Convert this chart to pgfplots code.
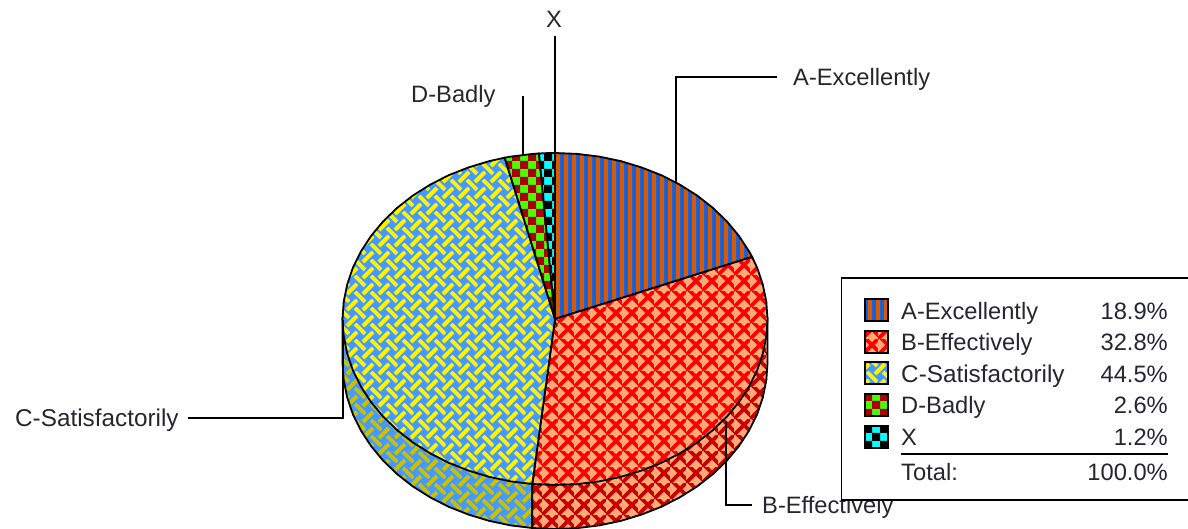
\documentclass[border=0pt]{standalone}
\usepackage{fontspec}
\setmainfont{Liberation Sans}
\usepackage{pgfplots}
\pgfplotsset{compat=1.18}
\usetikzlibrary{patterns}
\definecolor{txt}{HTML}{26262E}
\definecolor{ablue}{HTML}{0F62E8}
\definecolor{aorange}{HTML}{D95B00}
\definecolor{bbg}{HTML}{FFAA77}
\definecolor{cbg}{HTML}{4499FF}
\definecolor{dgreen}{HTML}{44FF00}
\definecolor{dred}{HTML}{AA0000}
\definecolor{xcyan}{HTML}{00FFFF}
\definecolor{bdark}{HTML}{C80000}
\definecolor{cdark}{HTML}{C8C000}
\newcommand\bbll{\pgfqpoint{-2pt}{-2pt}}
\newcommand\bigbg[1]{\pgfsetfillcolor{#1}\pgfpathrectangle{\pgfqpoint{-4pt}{-4pt}}{\pgfqpoint{26pt}{26pt}}\pgfusepath{fill}}
% vertical stripes
\pgfdeclarepatterninherentlycolored{pa}{\bbll}{\pgfqpoint{10pt}{10pt}}{\pgfqpoint{8pt}{8pt}}{%
  \pgfsetfillcolor{ablue}\pgfpathrectangle{\pgfqpoint{-4pt}{-4pt}}{\pgfqpoint{18pt}{18pt}}\pgfusepath{fill}%
  \pgfsetfillcolor{aorange}%
  \pgfpathrectangle{\pgfqpoint{-4pt}{-4pt}}{\pgfqpoint{4pt}{18pt}}%
  \pgfpathrectangle{\pgfqpoint{4pt}{-4pt}}{\pgfqpoint{4pt}{18pt}}\pgfusepath{fill}}
% crosshatch
\newcommand\crosshatch[1]{%
  \bigbg{bbg}%
  \pgfsetstrokecolor{#1}\pgfsetlinewidth{3.7pt}%
  \pgfpathmoveto{\pgfqpoint{-4pt}{-4pt}}\pgfpathlineto{\pgfqpoint{20pt}{20pt}}%
  \pgfpathmoveto{\pgfqpoint{-4pt}{20pt}}\pgfpathlineto{\pgfqpoint{20pt}{-4pt}}%
  \pgfusepath{stroke}}
\pgfdeclarepatterninherentlycolored{pb}{\bbll}{\pgfqpoint{18pt}{18pt}}{\pgfqpoint{16pt}{16pt}}{\crosshatch{red}}
\pgfdeclarepatterninherentlycolored{pbd}{\bbll}{\pgfqpoint{18pt}{18pt}}{\pgfqpoint{16pt}{16pt}}{\crosshatch{bdark}}
% weave
\newcommand\weave[1]{%
  \bigbg{cbg}%
  \pgfsetstrokecolor{#1}\pgfsetlinewidth{3.9pt}%
  \pgfpathmoveto{\pgfqpoint{-5pt}{-5pt}}\pgfpathlineto{\pgfqpoint{5pt}{5pt}}%
  \pgfpathmoveto{\pgfqpoint{11pt}{11pt}}\pgfpathlineto{\pgfqpoint{21pt}{21pt}}%
  \pgfpathmoveto{\pgfqpoint{11pt}{-5pt}}\pgfpathlineto{\pgfqpoint{21pt}{5pt}}%
  \pgfpathmoveto{\pgfqpoint{-5pt}{11pt}}\pgfpathlineto{\pgfqpoint{5pt}{21pt}}%
  \pgfpathmoveto{\pgfqpoint{3pt}{13pt}}\pgfpathlineto{\pgfqpoint{13pt}{3pt}}%
  \pgfusepath{stroke}}
\pgfdeclarepatterninherentlycolored{pc}{\bbll}{\pgfqpoint{18pt}{18pt}}{\pgfqpoint{16pt}{16pt}}{\weave{yellow}}
\pgfdeclarepatterninherentlycolored{pcd}{\bbll}{\pgfqpoint{18pt}{18pt}}{\pgfqpoint{16pt}{16pt}}{\weave{cdark}}
% checkers
\newcommand\checker[2]{%
  \bigbg{#1}%
  \pgfsetfillcolor{#2}\pgfpathrectangle{\pgfpointorigin}{\pgfqpoint{8pt}{8pt}}%
  \pgfpathrectangle{\pgfqpoint{8pt}{8pt}}{\pgfqpoint{8pt}{8pt}}%
  \pgfpathrectangle{\pgfqpoint{16pt}{0pt}}{\pgfqpoint{8pt}{8pt}}%
  \pgfpathrectangle{\pgfqpoint{0pt}{16pt}}{\pgfqpoint{8pt}{8pt}}%
  \pgfpathrectangle{\pgfqpoint{-8pt}{8pt}}{\pgfqpoint{8pt}{8pt}}%
  \pgfpathrectangle{\pgfqpoint{8pt}{-8pt}}{\pgfqpoint{8pt}{8pt}}%
  \pgfpathrectangle{\pgfqpoint{16pt}{16pt}}{\pgfqpoint{8pt}{8pt}}%
  \pgfpathrectangle{\pgfqpoint{-8pt}{-8pt}}{\pgfqpoint{8pt}{8pt}}%
  \pgfusepath{fill}}
\pgfdeclarepatterninherentlycolored{pd}{\bbll}{\pgfqpoint{18pt}{18pt}}{\pgfqpoint{16pt}{16pt}}{\checker{dgreen}{dred}}
\pgfdeclarepatterninherentlycolored{px}{\bbll}{\pgfqpoint{18pt}{18pt}}{\pgfqpoint{16pt}{16pt}}{\checker{xcyan}{black}}
\pgfplotsset{chartaxis/.style={
  at={(0,0)},anchor=south west,
  width=1188pt,height=529pt,scale only axis,hide axis,
  xmin=0,xmax=1188,ymin=0,ymax=529,y dir=reverse}}
\tikzset{lab/.style={anchor=base west,inner sep=0pt,text=txt,font=\fontsize{23.7}{26}\selectfont},
 labc/.style={anchor=base west,inner sep=0pt,text=txt,font=\fontsize{24.3}{26}\selectfont},
 labr/.style={anchor=base east,inner sep=0pt,text=txt,font=\fontsize{23.7}{26}\selectfont}}
\begin{document}
\begin{tikzpicture}
\begin{axis}[chartaxis]
% pie side, clipped at the lower edge
\addplot[draw=black,line width=1.8pt,pattern=pcd] coordinates {(342.5,319)(342.5,363)(343.7,380.3)(347.2,397.5)(352.9,414.3)(360.9,430.5)(371,446)(383.1,460.6)(397.1,474.1)(412.8,486.4)(430.1,497.3)(448.7,506.8)(468.6,514.6)(489.3,520.9)(510.8,525.4)(532.3,528)(532.3,484)} --cycle;
\addplot[draw=black,line width=1.8pt,pattern=pbd] coordinates {(767.5,319)(767.5,363)(766.3,380.3)(762.8,397.5)(757.1,414.3)(749.1,430.5)(739,446)(726.9,460.6)(712.9,474.1)(697.2,486.4)(679.9,497.3)(661.3,506.8)(641.4,514.6)(620.7,520.9)(599.2,525.4)(577.2,528.1)(555,529)(532.3,528)(532.3,484)} --cycle;
% pie top: A 18.9, B 32.8, C 44.5, D 2.6, X 1.2 per cent
\addplot[draw=black,line width=1.8pt,pattern=pa] coordinates {(555,319)(555,153)(577.2,153.9)(599.2,156.6)(620.7,161.1)(641.4,167.4)(661.3,175.2)(679.9,184.7)(697.2,195.6)(712.9,207.9)(726.9,221.4)(739,236)(749.1,251.5)(752.1,256.9)} --cycle;
\addplot[draw=black,line width=1.8pt,pattern=pb] coordinates {(555,319)(752.1,256.9)(757.1,267.7)(762.8,284.5)(766.3,301.7)(767.5,319)(766.3,336.3)(762.8,353.5)(757.1,370.3)(749.1,386.5)(739,402)(726.9,416.6)(712.9,430.1)(697.2,442.4)(679.9,453.3)(661.3,462.8)(641.4,470.6)(620.7,476.9)(599.2,481.4)(577.2,484.1)(555,485)(532.3,484)} --cycle;
\addplot[draw=black,line width=1.8pt,pattern=pc] coordinates {(555,319)(532.3,484)(510.8,481.4)(489.3,476.9)(468.6,470.6)(448.7,462.8)(430.1,453.3)(412.8,442.4)(397.1,430.1)(383.1,416.6)(371,402)(360.9,386.5)(352.9,370.3)(347.2,353.5)(343.7,336.3)(342.5,319)(343.7,301.7)(347.2,284.5)(352.9,267.7)(360.9,251.5)(371,236)(383.1,221.4)(397.1,207.9)(412.8,195.6)(430.1,184.7)(448.7,175.2)(468.6,167.4)(489.3,161.1)(504.7,157.7)} --cycle;
\addplot[draw=black,line width=1.8pt,pattern=pd] coordinates {(555,319)(504.7,157.7)(510.8,156.6)(532.8,153.9)(539,153.5)} --cycle;
\addplot[draw=black,line width=1.8pt,pattern=px] coordinates {(555,319)(539,153.5)(547.6,153.1)(555,153)} --cycle;
% leader lines
\addplot[black,line width=1.6pt] coordinates {(777,77)(676,77)(676,183)};
\addplot[black,line width=1.6pt] coordinates {(726,421)(726,505)(752,505)};
\addplot[black,line width=1.6pt] coordinates {(188,418)(343,418)(343,320)};
\addplot[black,line width=1.6pt] coordinates {(523,96)(523,156)};
\addplot[black,line width=1.6pt] coordinates {(555,36)(555,153)};
\node[lab] at (axis cs:793,86) {A-Excellently};
\node[lab] at (axis cs:762,513) {B-Effectively};
\node[labc] at (axis cs:15,426) {C-Satisfactorily};
\node[lab] at (axis cs:411,103) {D-Badly};
\node[anchor=base,inner sep=0pt,text=txt,font=\fontsize{23.7}{26}\selectfont] at (axis cs:554,28) {X};
\end{axis}
\begin{axis}[chartaxis]
% legend box, open past the right edge
\addplot[draw=black,line width=1.8pt,fill=white] coordinates {(841.5,278)(1200,278)(1200,500)(841.5,500)} --cycle;
\addplot[draw=black,line width=2pt,pattern=pa] coordinates {(865,299)(888,299)(888,321)(865,321)} --cycle;
\addplot[draw=black,line width=2pt,pattern=pb] coordinates {(865,331)(888,331)(888,352.5)(865,352.5)} --cycle;
\addplot[draw=black,line width=2pt,pattern=pc] coordinates {(865,362)(888,362)(888,384)(865,384)} --cycle;
\addplot[draw=black,line width=2pt,pattern=pd] coordinates {(865,394)(888,394)(888,416)(865,416)} --cycle;
\addplot[draw=black,line width=2pt,pattern=px] coordinates {(865,426)(888,426)(888,448)(865,448)} --cycle;
\addplot[black,line width=1.6pt] coordinates {(901,454)(1168,454)};
\node[lab] at (axis cs:901,319) {A-Excellently};
\node[lab] at (axis cs:901,350) {B-Effectively};
\node[labc] at (axis cs:901,382) {C-Satisfactorily};
\node[lab] at (axis cs:901,413.5) {D-Badly};
\node[lab] at (axis cs:901,445) {X};
\node[lab] at (axis cs:901,480) {Total:};
\node[labr] at (axis cs:1168,319) {18.9\%};
\node[labr] at (axis cs:1168,350) {32.8\%};
\node[labr] at (axis cs:1168,382) {44.5\%};
\node[labr] at (axis cs:1168,413.5) {2.6\%};
\node[labr] at (axis cs:1168,445) {1.2\%};
\node[labr] at (axis cs:1168,480) {100.0\%};
\end{axis}
\pgfresetboundingbox
\path[use as bounding box] (0,0) rectangle (1188pt,529pt);
\end{tikzpicture}
\end{document}
